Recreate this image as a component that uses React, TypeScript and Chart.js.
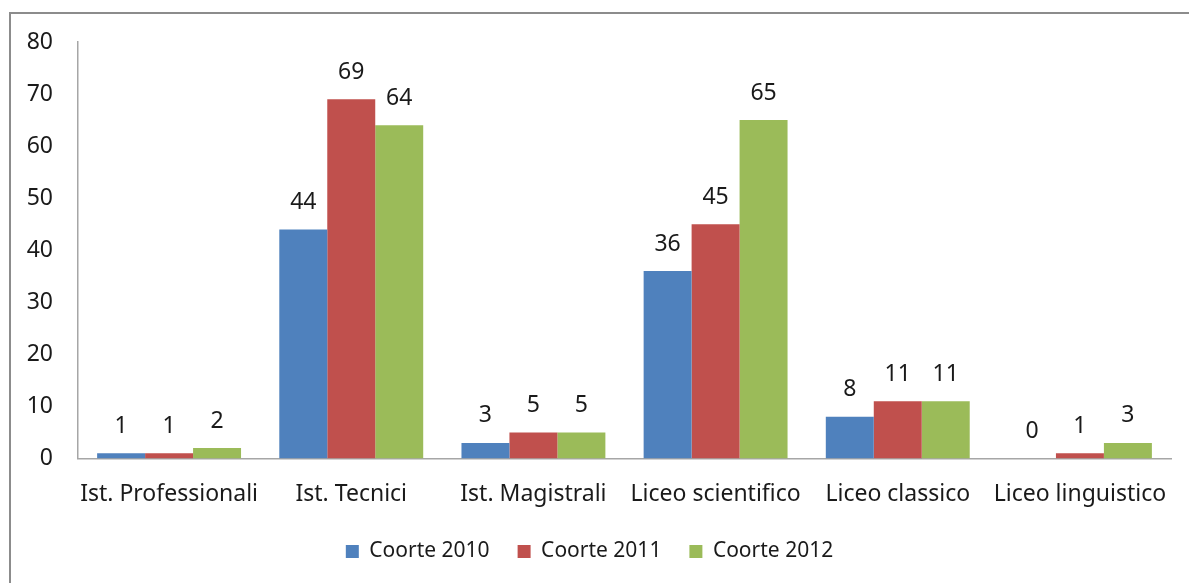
import React, { useEffect, useRef } from "react";
import { Chart, registerables } from "chart.js";

Chart.register(...registerables);

const categories = [
  "Ist. Professionali",
  "Ist. Tecnici",
  "Ist. Magistrali",
  "Liceo scientifico",
  "Liceo classico",
  "Liceo linguistico",
];
const coorte2010 = [1, 44, 3, 36, 8, 0];
const coorte2011 = [1, 69, 5, 45, 11, 1];
const coorte2012 = [2, 64, 5, 65, 11, 3];
const seriesNames = ["Coorte 2010", "Coorte 2011", "Coorte 2012"];
const seriesColors = ["#4F81BD", "#C0504D", "#9BBB59"];

const FONT = "'Noto Sans', sans-serif";
const SIZE = 23;
const TEXT = "#1a1a1a";

const framePlugin = {
  id: "frame",
  beforeDraw(chart: any) {
    const ctx = chart.ctx;
    ctx.save();
    ctx.fillStyle = "#ffffff";
    ctx.fillRect(0, 0, chart.width, chart.height);
    ctx.strokeStyle = "#8c8c8c";
    ctx.lineWidth = 2;
    ctx.strokeRect(10, 13, 1400, 800);
    ctx.restore();
  },
};

const valueLabels = {
  id: "valueLabels",
  afterDatasetsDraw(chart: any) {
    const ctx = chart.ctx;
    ctx.save();
    ctx.font = `${SIZE}px ${FONT}`;
    ctx.fillStyle = TEXT;
    ctx.textAlign = "center";
    ctx.textBaseline = "middle";
    chart.data.datasets.forEach((ds: any, i: number) => {
      const meta = chart.getDatasetMeta(i);
      meta.data.forEach((el: any, j: number) => {
        ctx.fillText(String(ds.data[j]), el.x, el.y - 27);
      });
    });
    ctx.restore();
  },
};

export default function App() {
  const ref = useRef<HTMLCanvasElement | null>(null);
  useEffect(() => {
    if (!ref.current) return;
    const chart = new Chart(ref.current, {
      type: "bar",
      data: {
        labels: categories,
        datasets: [coorte2010, coorte2011, coorte2012].map((d, i) => ({
          label: seriesNames[i],
          data: d,
          backgroundColor: seriesColors[i],
          borderWidth: 0,
          categoryPercentage: 0.79,
          barPercentage: 1,
        })),
      },
      options: {
        animation: false,
        responsive: false,
        maintainAspectRatio: false,
        layout: { padding: { top: 42, right: 10, bottom: 48, left: 0 } },
        plugins: {
          tooltip: { enabled: false },
          legend: {
            position: "bottom",
            labels: {
              boxWidth: 13,
              boxHeight: 13,
              padding: 28,
              color: TEXT,
              font: { family: FONT, size: 21 },
            },
          },
        },
        scales: {
          x: {
            grid: { display: false, drawTicks: false },
            border: { display: true, color: "#a6a6a6", width: 1.5 },
            ticks: { color: TEXT, font: { family: FONT, size: SIZE }, padding: 22, maxRotation: 0, autoSkip: false },
            afterFit(scale: any) {
              scale.height = 54.5;
            },
          },
          y: {
            min: 0,
            max: 80,
            grid: { display: false, drawTicks: false },
            border: { display: true, color: "#a6a6a6", width: 1.5 },
            ticks: { stepSize: 10, color: TEXT, font: { family: FONT, size: SIZE }, padding: 25 },
            afterFit(scale: any) {
              scale.width = 78;
            },
          },
        },
      },
      plugins: [framePlugin, valueLabels],
    } as any);
    return () => chart.destroy();
  }, []);
  return (
    <div style={{ position: "fixed", left: 0, top: 0, width: 1189, height: 620, overflow: "hidden" }}>
      <canvas ref={ref} width={1189} height={620} style={{ display: "block", width: 1189, height: 620 }} />
    </div>
  );
}
